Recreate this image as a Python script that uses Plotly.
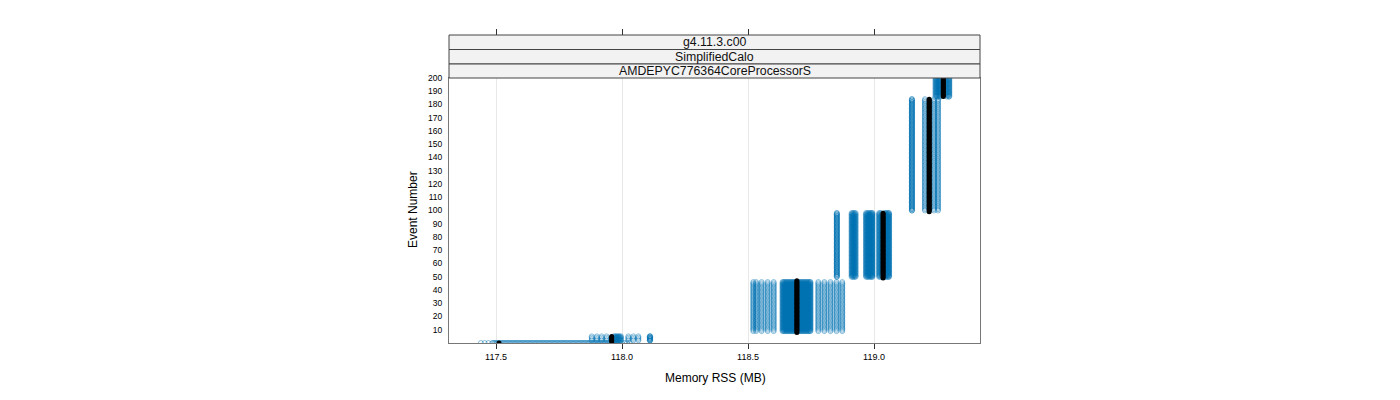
import plotly.graph_objects as go

# ---- data ----
strip_labels = ["g4.11.3.c00", "SimplifiedCalo", "AMDEPYC776364CoreProcessorS"]

x_ticks = [117.5, 118.0, 118.5, 119.0]
x_tick_labels = ["117.5", "118.0", "118.5", "119.0"]
y_ticks = [10, 20, 30, 40, 50, 60, 70, 80, 90, 100, 110, 120, 130, 140, 150, 160, 170, 180, 190, 200]

# event ranges (first, last) of each memory plateau
step_first_event = [0, 2, 9, 50, 100, 186]
step_last_event = [0, 5, 46, 98, 184, 200]

# Memory RSS (MB) of the individual runs on each plateau
rss_step1 = [117.44, 117.455, 117.47, 117.485, 117.49, 117.495, 117.50, 117.505, 117.51, 117.515,
             117.52, 117.525, 117.53, 117.535, 117.54, 117.545, 117.55, 117.555, 117.56, 117.565,
             117.57, 117.575, 117.58, 117.585, 117.59, 117.595, 117.60, 117.605, 117.61, 117.615,
             117.62, 117.625, 117.63, 117.635, 117.64, 117.645, 117.65, 117.655, 117.66, 117.665,
             117.67, 117.675, 117.68, 117.685, 117.69, 117.695, 117.70, 117.705, 117.71, 117.715,
             117.72, 117.725, 117.73, 117.735, 117.74, 117.745, 117.75, 117.755, 117.76, 117.765,
             117.77, 117.775, 117.78, 117.785, 117.79, 117.795, 117.80, 117.805, 117.81, 117.815,
             117.82, 117.825, 117.83, 117.835, 117.84, 117.845, 117.85, 117.855, 117.86, 117.865,
             117.87, 117.875, 117.88, 117.885, 117.89, 117.895, 117.90, 117.905, 117.91, 117.915,
             117.92, 117.925, 117.93, 117.935, 117.94, 117.945, 117.95, 117.955, 117.96, 117.965,
             117.97, 117.975, 117.98, 117.985, 117.99, 117.995, 118.00, 118.01, 118.02, 118.03]
rss_step2 = [117.880, 117.900, 117.919, 117.939, 117.968, 117.972, 117.976, 117.980, 117.984,
             117.988, 117.992, 117.996, 118.025, 118.045, 118.065, 118.110, 118.111, 118.112]
rss_step3 = [118.521, 118.532, 118.554, 118.578, 118.602, 118.637, 118.641, 118.645, 118.649,
             118.653, 118.657, 118.661, 118.665, 118.669, 118.673, 118.677, 118.681, 118.685,
             118.689, 118.693, 118.697, 118.701, 118.705, 118.709, 118.713, 118.717, 118.721,
             118.725, 118.729, 118.733, 118.737, 118.741, 118.745, 118.748, 118.779, 118.803,
             118.827, 118.851, 118.874]
rss_step4 = [118.852, 118.853, 118.911, 118.915, 118.919, 118.923, 118.927, 118.968, 118.972,
             118.976, 118.980, 118.984, 118.988, 118.992, 118.994, 119.020, 119.024, 119.030,
             119.042, 119.046, 119.050, 119.054, 119.058, 119.060]
rss_step5 = [119.150, 119.151, 119.202, 119.238, 119.254]
rss_step6 = [119.244, 119.249, 119.254, 119.259, 119.264, 119.289, 119.296, 119.299]

# reference run (black)
ref_first_event = [0, 1, 8, 49, 99, 186]
ref_last_event = [0, 5, 47, 98, 184, 200]
ref_rss = [117.512, 117.959, 118.694, 119.036, 119.219, 119.275]

steps_rss = [rss_step1, rss_step2, rss_step3, rss_step4, rss_step5, rss_step6]

# ---- build points ----
bx, by = [], []
for first, last, vals in zip(step_first_event, step_last_event, steps_rss):
    for v in vals:
        for ev in range(first, last + 1):
            bx.append(v)
            by.append(ev)

rx, ry = [], []
for first, last, v in zip(ref_first_event, ref_last_event, ref_rss):
    for ev in range(first, last + 1):
        rx.append(v)
        ry.append(ev)

W, H = 1400, 400
px_l, px_r = 449, 980
py_t, py_b = 78, 343
x_range = [117.3135, 119.4206]
y_range = [0, 200]

blue = "rgba(0,114,178,0.45)"
fig = go.Figure()
fig.add_trace(go.Scatter(
    x=bx, y=by, mode="markers",
    marker=dict(symbol="circle-open", size=5, color=blue,
                line=dict(width=1, color=blue)),
    hoverinfo="skip", showlegend=False))
fig.add_trace(go.Scatter(
    x=rx, y=ry, mode="markers",
    marker=dict(symbol="circle", size=5, color="black"),
    hoverinfo="skip", showlegend=False))

panel_col = "#777777"
fig.update_layout(
    width=W, height=H,
    margin=dict(l=0, r=0, t=0, b=0, pad=0, autoexpand=False),
    paper_bgcolor="white", plot_bgcolor="white",
    font=dict(family="Liberation Sans, Arial, sans-serif", color="black"),
    xaxis=dict(domain=[px_l / W, px_r / W], range=x_range, automargin=False,
               tickvals=x_ticks, ticktext=x_tick_labels,
               ticks="outside", ticklen=5, tickcolor="#333333",
               tickfont=dict(size=9), showgrid=True, gridcolor="#e8e8e8", gridwidth=1,
               zeroline=False, showline=True, linecolor=panel_col, mirror=True),
    xaxis2=dict(overlaying="x", side="top", anchor="free", position=1 - 35 / H,
                range=x_range, tickvals=x_ticks, showticklabels=False, automargin=False,
                ticks="outside", ticklen=6, tickcolor="#333333",
                showgrid=False, zeroline=False, showline=False),
    yaxis=dict(domain=[1 - py_b / H, 1 - py_t / H], range=y_range, automargin=False,
               tickvals=y_ticks, ticks="", tickfont=dict(size=8.5),
               ticklabelstandoff=4,
               showgrid=False, zeroline=False, showline=True, linecolor=panel_col, mirror=True),
)
# dummy trace on top axis so it renders
fig.add_trace(go.Scatter(x=[None], y=[None], xaxis="x2", showlegend=False, hoverinfo="skip"))

# strips
strip_edges = [35, 49.5, 64, 78]
for i, lab in enumerate(strip_labels):
    y0 = 1 - strip_edges[i + 1] / H
    y1 = 1 - strip_edges[i] / H
    fig.add_shape(type="rect", xref="paper", yref="paper",
                  x0=px_l / W, x1=px_r / W, y0=y0, y1=y1,
                  fillcolor="#f2f2f2", line=dict(color="#444444", width=1))
    fig.add_annotation(xref="paper", yref="paper", x=(px_l + px_r) / 2 / W, y=(y0 + y1) / 2,
                       text=lab, showarrow=False, font=dict(size=12.3, color="#111111"),
                       xanchor="center", yanchor="middle")

# axis titles
fig.add_annotation(xref="paper", yref="paper", x=715 / W, y=1 - 378 / H,
                   text="Memory RSS (MB)", showarrow=False, font=dict(size=12),
                   xanchor="center", yanchor="middle")
fig.add_annotation(xref="paper", yref="paper", x=413 / W, y=1 - 210 / H,
                   text="Event Number", showarrow=False, font=dict(size=12),
                   textangle=-90, xanchor="center", yanchor="middle")

fig.write_html("out.html")
